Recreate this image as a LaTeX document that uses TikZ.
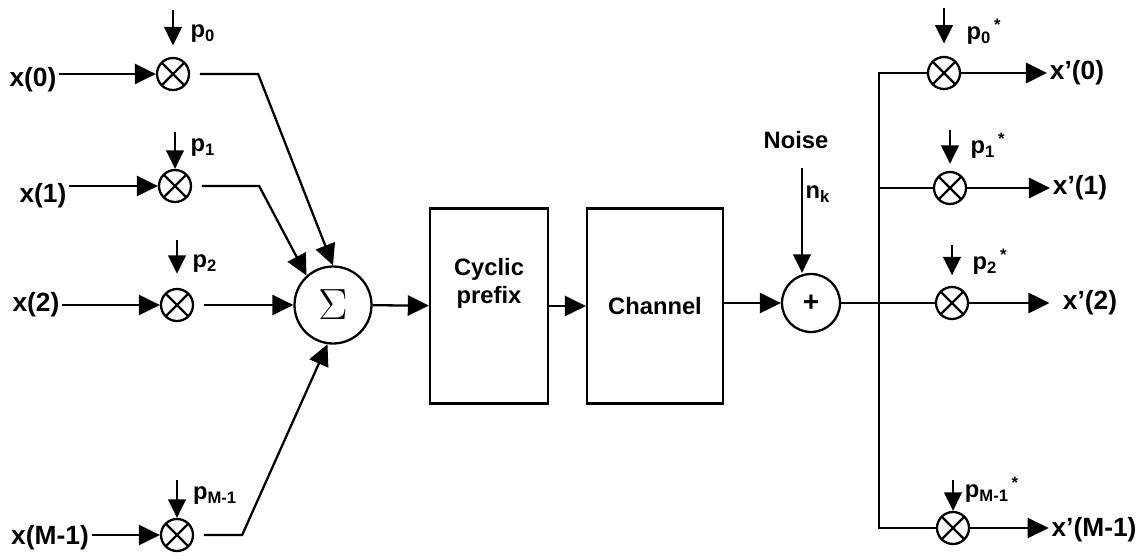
\documentclass[tikz,border=0pt]{standalone}
\usepackage{fontspec}
\setmainfont{Liberation Sans}
\usetikzlibrary{arrows.meta}

\begin{document}
\begin{tikzpicture}[
    x=0.02cm, y=-0.02cm,
    >={Triangle[length=12pt,width=11.5pt]}, line width=1.3pt,
    font=\fontsize{13.5}{16}\selectfont\bfseries,
    lbl/.style  ={inner sep=1pt},
    inp/.style  ={inner sep=1pt, font=\fontsize{15}{17}\selectfont\bfseries},
    mul/.style  ={draw, circle, minimum size=0.64cm, inner sep=0pt,
                  path picture={\draw[line width=1.3pt]
                    (path picture bounding box.north west) -- (path picture bounding box.south east)
                    (path picture bounding box.south west) -- (path picture bounding box.north east);}},
    sumnode/.style ={draw, circle, minimum size=1.54cm, inner sep=0pt,
                  font=\fontsize{24}{26}\selectfont},
    addnode/.style ={draw, circle, minimum size=1.16cm, inner sep=0pt,
                  font=\fontsize{16}{18}\selectfont\bfseries},
    blk/.style  ={draw, minimum height=3.9cm},
    pin/.style  ={->, >={Triangle[length=10.5pt,width=10pt]}},
  ]
  \useasboundingbox (0,0) rectangle (1142,558);

  % --- spreading side ---
  \node[mul] (m0) at (173,74)  {};
  \node[mul] (m1) at (175,186) {};
  \node[mul] (m2) at (177,305) {};
  \node[mul] (m3) at (177,535) {};
  \node[inp] (x0) at (33,80)  {x(0)};
  \node[inp] (x1) at (43,196) {x(1)};
  \node[inp] (x2) at (36,305) {x(2)};
  \node[inp] (x3) at (50,538) {x(M-1)};
  \draw[->] (x0.east |- m0) -- (m0);
  \draw[->] (x1.east |- m1) -- (m1);
  \draw[->] (x2) -- (m2);
  \draw[->] (x3.east |- m3) -- (m3);

  \node[lbl] (p0) at (203,34)  {p\textsubscript{0}};
  \node[lbl] (p1) at (203,148) {p\textsubscript{1}};
  \node[lbl] (p2) at (205,264) {p\textsubscript{2}};
  \node[lbl] (p3) at (215,496) {p\textsubscript{M-1}};
  \coordinate (a0) at (173,10);
  \coordinate (a1) at (175,132);
  \coordinate (a2) at (177,240);
  \coordinate (a3) at (177,480);
  \draw[pin, shorten >=6.5pt] (a0) -- (m0.north);
  \draw[pin] (a1) -- (m1.north);
  \draw[pin, shorten >=8pt] (a2) -- (m2.north);
  \draw[pin] (a3) -- (m3.north);

  \node[sumnode] (sum) at (333,305) {$\Sigma$};
  \draw[->, shorten <=5.5pt] (m0.east) -- ++(68,0) -- (sum.north);
  \draw[->, shorten <=5.5pt] (m1.east) -- ++(67,0) -- (sum.132);
  \draw[->, shorten <=5.5pt] (m2.east) -- (sum.west);
  \draw[->, shorten <=5.5pt] (m3.east) -- ++(48,0) -- (sum.-98);

  % --- chain ---
  \node[blk, minimum width=2.36cm] (cp) at (489,306) {};
  \node[align=center, inner sep=0pt] (cptxt) at ([yshift=0.45cm]cp.center) {Cyclic\\prefix};
  \node[blk, minimum width=2.72cm] (ch) at (655,306) {Channel};
  \node[addnode] (add) at (811,303) {+};
  \draw[->] (sum) -- (cp);
  \draw[->] (cp) -- (ch);
  \draw[->] (ch.east |- add) -- (add);

  \node[lbl] (noise) at (796,140) {Noise};
  \node[lbl] (nk) at (818,194) {n\textsubscript{k}};
  \coordinate (nstart) at (802,168);
  \draw[pin] (nstart) -- (nstart |- add.north);

  % --- despreading side ---
  \coordinate (bus) at (879,303);
  \node[mul] (r0) at (944,73)  {};
  \node[mul] (r1) at (950,188) {};
  \node[mul] (r2) at (952,303) {};
  \node[mul] (r3) at (953,528) {};
  \draw (add.east) -- (r2.west);
  \draw (r0.west) -- (r0.west -| bus) -- (r3.west -| bus) -- (r3.west);
  \draw (r1.west -| bus) -- (r1.west);

  \node[inp] (y0) at (1077,73)  {x’(0)};
  \node[inp] (y1) at (1080,188) {x’(1)};
  \node[inp] (y2) at (1090,303) {x’(2)};
  \node[inp] (y3) at (1094,530) {x’(M-1)};
  \draw[->] (r0) -- (y0);
  \draw[->] (r1) -- (y1);
  \draw[->, shorten >=6pt] (r2) -- (y2);
  \draw[->] (r3) -- (y3.west |- r3);

  \node[lbl] (q0) at (984,32)  {p\textsubscript{0}\textsuperscript{\,*}};
  \node[lbl] (q1) at (988,146) {p\textsubscript{1}\textsuperscript{\,*}};
  \node[lbl] (q2) at (990,262) {p\textsubscript{2}\textsuperscript{\,*}};
  \node[lbl] (q3) at (992,490) {p\textsubscript{M-1}\textsuperscript{\,*}};
  \coordinate (b0) at (944,8);
  \coordinate (b1) at (950,130);
  \coordinate (b2) at (952,245);
  \coordinate (b3) at (953,480);
  \draw[pin, shorten >=7pt] (b0) -- (r0.north);
  \draw[pin, shorten >=4pt] (b1) -- (r1.north);
  \draw[pin, shorten >=6pt] (b2) -- (r2.north);
  \draw[pin] (b3) -- (r3.north);
\end{tikzpicture}
\end{document}
